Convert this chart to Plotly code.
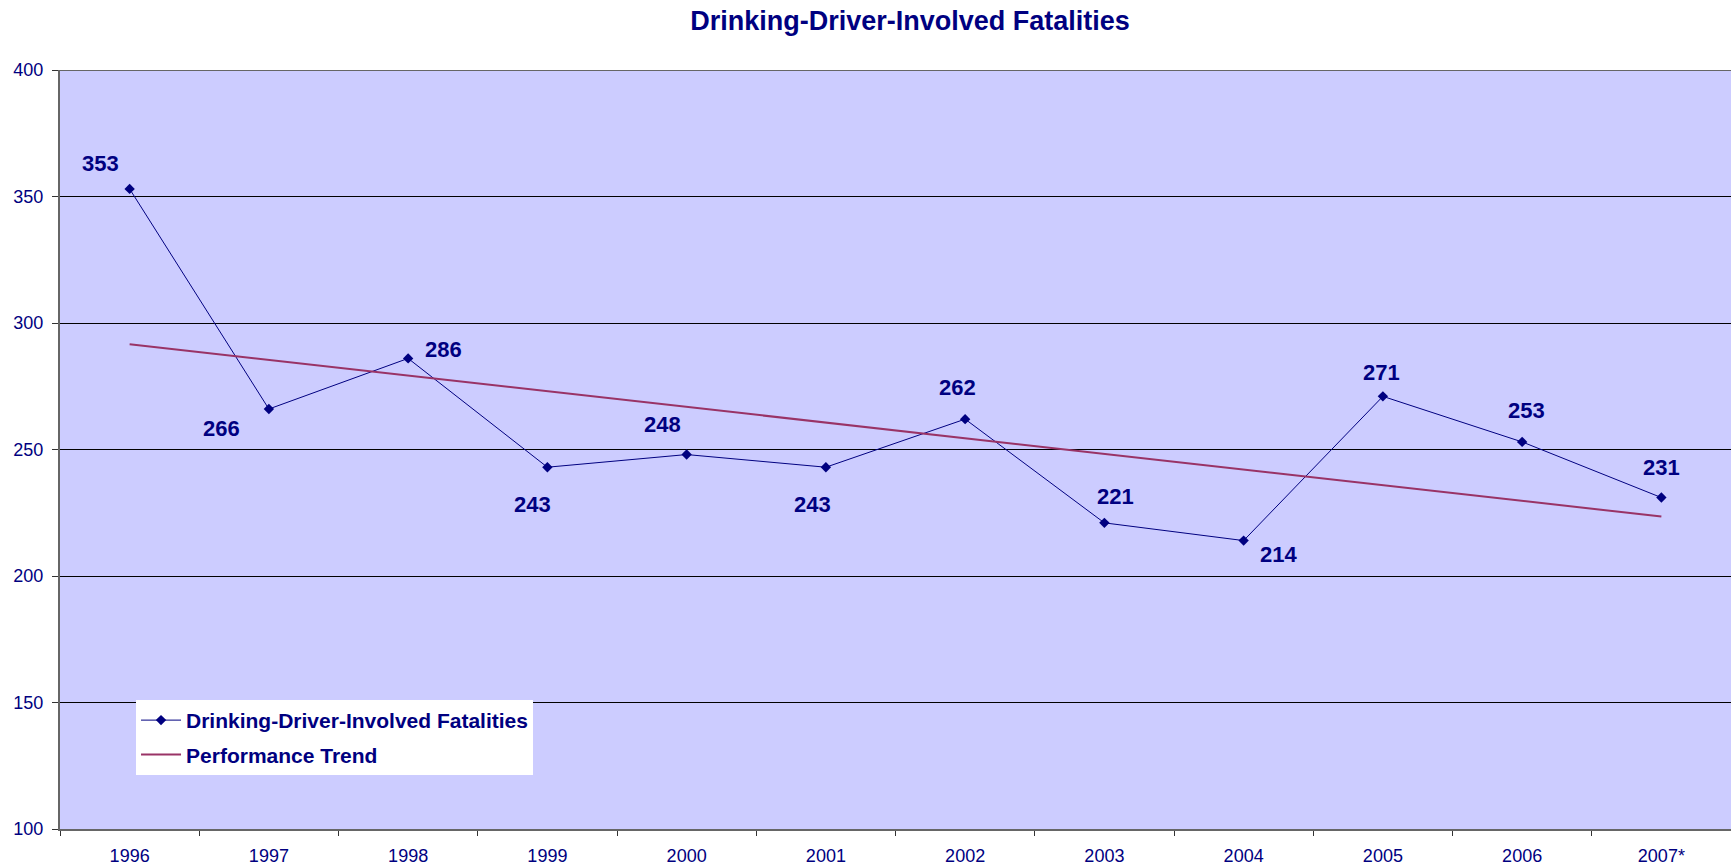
import plotly.graph_objects as go

years = ["1996", "1997", "1998", "1999", "2000", "2001", "2002", "2003", "2004", "2005", "2006", "2007*"]
fatalities = [353, 266, 286, 243, 248, 243, 262, 221, 214, 271, 253, 231]
trend_years = ["1996", "2007*"]
trend_values = [291.6, 223.5]

# label offsets (pixels) for data labels
label_dx = [-29, -47, 35, -15, -24, -13, -8, 11, 35, -1, 4, 0]
label_dy = [25, -19, 9, -37, 30, -37, 32, 26, -14, 24, 31, 30]

NAVY = "#000080"
FONT = "Liberation Sans, Arial, sans-serif"

fig = go.Figure()
fig.add_trace(go.Scatter(
    x=years, y=fatalities, mode="lines+markers",
    name="Drinking-Driver-Involved Fatalities",
    line=dict(color=NAVY, width=1),
    marker=dict(symbol="diamond", size=8, color=NAVY),
    legendgroup="a",
))
fig.add_trace(go.Scatter(
    x=trend_years, y=trend_values, mode="lines",
    name="Performance Trend",
    line=dict(color="#993366", width=2),
    legendgroup="b",
))

for i, (y, dx, dy) in enumerate(zip(fatalities, label_dx, label_dy)):
    fig.add_annotation(x=i, y=y, xref="x", yref="y", text=f"<b>{y}</b>", showarrow=False,
                       xshift=dx, yshift=dy,
                       font=dict(family=FONT, size=22, color=NAVY))

fig.update_layout(
    width=1731, height=868,
    margin=dict(l=60, r=0, t=70, b=39),
    paper_bgcolor="white",
    plot_bgcolor="#CCCCFF",
    font=dict(family=FONT, color=NAVY),
    title=dict(text="<b>Drinking-Driver-Involved Fatalities</b>",
               x=910 / 1731, xanchor="center",
               y=1 - 21 / 868, yanchor="middle", yref="container",
               font=dict(family=FONT, size=27, color=NAVY)),
    showlegend=True,
    legend=dict(x=0.0455, y=0.17, xanchor="left", yanchor="top",
                bgcolor="white", traceorder="grouped", tracegroupgap=4,
                font=dict(family=FONT, size=21, color=NAVY, weight="bold"),
                itemwidth=40),
    xaxis=dict(type="category", range=[-0.5, 11.5],
               showgrid=False, showline=True, linecolor="#666666", linewidth=2,
               mirror=False, ticks="outside", tickson="boundaries", ticklen=5,
               tickcolor="#333333", tickfont=dict(family=FONT, size=18, color=NAVY),
               ticklabelstandoff=9, zeroline=False),
    yaxis=dict(range=[100, 400], tickvals=[100, 150, 200, 250, 300, 350, 400],
               showgrid=True, gridcolor="black", gridwidth=1,
               showline=True, linecolor="#666666", linewidth=2,
               ticks="outside", ticklen=6, tickcolor="#333333",
               tickfont=dict(family=FONT, size=18, color=NAVY),
               ticklabelstandoff=5, zeroline=False),
)
fig.add_shape(type="line", xref="paper", yref="y", x0=0, x1=1, y0=400, y1=400,
              line=dict(color="#666666", width=2))

fig.write_html("out.html", config={"displayModeBar": False},
               post_script="document.body.style.margin='0';document.body.style.overflow='hidden';")
